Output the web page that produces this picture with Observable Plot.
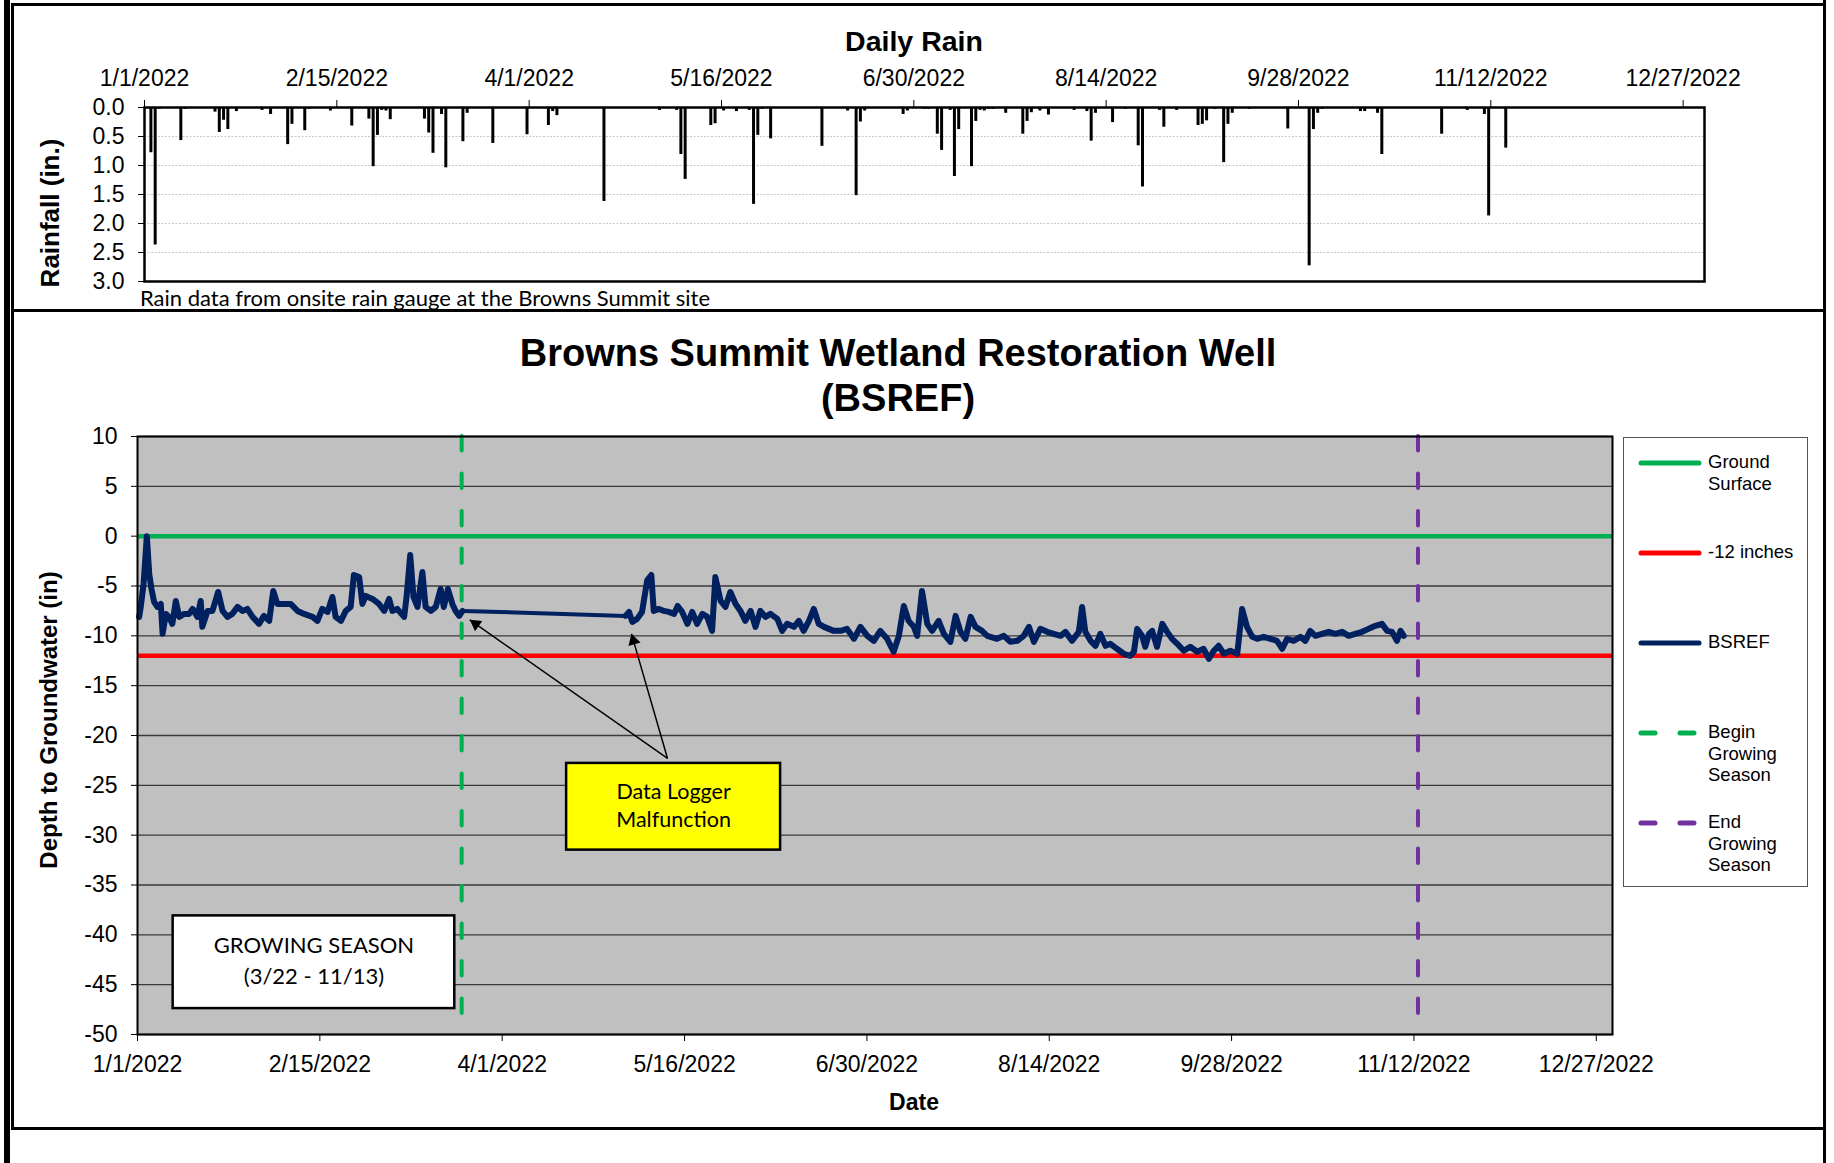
<!DOCTYPE html>
<html>
<head>
<meta charset="utf-8">
<script src="https://cdn.jsdelivr.net/npm/d3@7"></script>
<script src="https://cdn.jsdelivr.net/npm/@observablehq/plot@0.6"></script>
<style>
  html, body { margin: 0; padding: 0; background: #fff; overflow: hidden; }
  #page { position: relative; width: 1834px; height: 1163px; overflow: hidden; background: #fff;
          font-family: "Liberation Sans", Arial, sans-serif; color: #000; }
  .abs { position: absolute; }
  .c { transform: translate(-50%, -50%); white-space: nowrap; }
  .rot { transform: translate(-50%, -50%) rotate(-90deg); white-space: nowrap; }
</style>
</head>
<body>
<div id="page"></div>
<script>
// ---------------- DATA ----------------
const tickDates = ["2022-01-01","2022-02-15","2022-04-01","2022-05-16","2022-06-30","2022-08-14","2022-09-28","2022-11-12","2022-12-27"];

const rainTicks = [0, 0.5, 1, 1.5, 2, 2.5, 3];
const rainDates = [
  "2022-01-02","2022-01-03","2022-01-04","2022-01-09","2022-01-10","2022-01-17","2022-01-18","2022-01-19","2022-01-20","2022-01-22",
  "2022-01-28","2022-01-29","2022-01-30","2022-02-03","2022-02-04","2022-02-07","2022-02-08","2022-02-13","2022-02-18","2022-02-22",
  "2022-02-23","2022-02-24","2022-02-25","2022-02-26","2022-02-27","2022-03-07","2022-03-08","2022-03-09","2022-03-11","2022-03-12",
  "2022-03-16","2022-03-17","2022-03-23","2022-03-31","2022-04-05","2022-04-06","2022-04-07","2022-04-18","2022-05-01","2022-05-05",
  "2022-05-06","2022-05-07","2022-05-13","2022-05-14","2022-05-16","2022-05-19","2022-05-22","2022-05-23","2022-05-24","2022-05-25",
  "2022-05-27","2022-06-08","2022-06-14","2022-06-16","2022-06-17","2022-06-18","2022-06-27","2022-06-28","2022-07-02","2022-07-03",
  "2022-07-05","2022-07-06","2022-07-08","2022-07-09","2022-07-10","2022-07-13","2022-07-14","2022-07-15","2022-07-16","2022-07-17",
  "2022-07-18","2022-07-21","2022-07-25","2022-07-26","2022-07-27","2022-07-29","2022-07-31","2022-08-06","2022-08-09","2022-08-10",
  "2022-08-11","2022-08-15","2022-08-18","2022-08-21","2022-08-22","2022-08-26","2022-08-27","2022-08-30","2022-09-04","2022-09-05",
  "2022-09-06","2022-09-08","2022-09-10","2022-09-11","2022-09-12","2022-09-16","2022-09-25","2022-09-30","2022-10-01","2022-10-02",
  "2022-10-03","2022-10-12","2022-10-13","2022-10-16","2022-10-17","2022-10-31","2022-11-06","2022-11-10","2022-11-11","2022-11-15"
];
const rainInches = [
  0.78,2.37,0.03,0.57,0.03,0.08,0.43,0.22,0.38,0.07,
  0.05,0.02,0.12,0.64,0.29,0.40,0.03,0.06,0.32,0.20,
  1.02,0.48,0.05,0.06,0.21,0.20,0.44,0.79,0.12,1.04,
  0.59,0.10,0.62,0.47,0.31,0.07,0.14,1.62,0.05,0.05,
  0.81,1.24,0.31,0.28,0.06,0.07,0.05,1.67,0.48,0.03,
  0.54,0.67,0.06,1.52,0.25,0.06,0.12,0.06,0.03,0.03,
  0.46,0.74,0.05,1.19,0.38,1.02,0.24,0.05,0.06,0.03,
  0.03,0.10,0.46,0.24,0.09,0.06,0.13,0.05,0.07,0.58,
  0.10,0.26,0.03,0.66,1.37,0.05,0.34,0.05,0.31,0.29,
  0.23,0.03,0.95,0.29,0.10,0.03,0.37,2.73,0.38,0.10,
  0.03,0.07,0.07,0.10,0.81,0.46,0.05,0.12,1.87,0.70
];

const depthTicks = [10, 5, 0, -5, -10, -15, -20, -25, -30, -35, -40, -45, -50];
const groundSurface = 0;
const thresholdDepth = -12;
const seasonBegin = "2022-03-22";
const seasonEnd = "2022-11-13";

// BSREF well: day of year (0 = Jan 1, 2022) and depth to groundwater (in), in two logged runs
const wellDayOfYearRun1 = [
  0.4,0.8,1.5,2.3,2.9,3.45,4.1,4.9,5.75,6.2,7.0,7.8,8.6,9.45,10.3,11.5,12.75,13.6,14.8,15.6,
  16.0,17.3,18.5,19.9,21.0,22.2,23.4,24.7,25.9,27.1,28.4,30.0,31.2,32.5,33.5,34.5,36.2,37.8,39.5,41.1,
  43.2,44.4,45.6,46.9,48.1,48.9,50.2,51.4,52.6,53.4,54.7,55.5,56.3,58.0,59.6,60.9,62.1,62.9,64.1,65.8,
  66.4,67.3,68.1,69.1,70.3,71.1,72.4,73.6,74.8,75.6,76.6,77.7,78.5,79.4,80.2
];
const wellDepthRun1 = [
  -8.1,-7.1,-4.8,0.0,-3.8,-5.3,-6.6,-7.1,-6.8,-9.8,-7.8,-8.1,-8.8,-6.5,-8.1,-7.8,-7.8,-7.3,-8.1,-6.5,
  -9.1,-7.5,-7.5,-5.6,-7.5,-8.1,-7.8,-7.1,-7.5,-7.3,-8.1,-8.8,-8.0,-8.5,-5.5,-6.8,-6.8,-6.8,-7.5,-7.8,
  -8.1,-8.5,-7.3,-7.6,-6.1,-8.1,-8.5,-7.5,-7.1,-3.9,-4.1,-6.8,-6.0,-6.3,-6.8,-7.5,-6.3,-7.5,-7.3,-8.1,
  -6.1,-1.9,-6.1,-7.1,-3.6,-7.1,-7.5,-7.1,-5.3,-7.1,-5.3,-6.8,-7.5,-8.0,-7.5
];
const wellDayOfYearRun2 = [
  120.4,121.3,122.1,123.3,124.5,125.8,126.8,127.4,128.7,129.9,131.1,132.4,133.3,134.4,135.7,136.9,138.1,139.4,140.6,141.8,
  142.6,143.9,145.1,146.3,147.6,148.8,150.0,151.3,152.5,153.7,155.0,156.2,157.9,159.1,160.3,162.0,163.2,164.4,165.7,166.9,
  168.1,169.4,170.6,171.8,173.5,175.1,176.8,178.4,180.1,181.7,183.3,185.0,186.6,187.9,189.1,190.3,191.6,192.4,193.6,194.9,
  196.1,197.7,199.0,200.6,201.9,203.1,204.3,205.6,206.8,208.4,209.7,
  210.5,212.1,213.8,215.4,217.1,218.7,220.0,221.2,222.8,224.5,226.1,227.8,229.0,230.6,232.3,233.1,233.9,235.2,236.4,237.6,
  238.9,240.1,241.7,243.4,245.0,245.9,246.7,247.9,248.7,249.6,250.4,251.6,252.9,254.1,255.3,256.6,258.2,259.8,261.5,263.1,
  264.4,265.6,266.8,268.1,269.7,271.4,272.6,273.8,275.1,276.3,277.9,279.6,281.2,282.5,283.7,285.3,287.0,288.2,289.4,290.7,
  292.3,294.0,295.6,297.3,298.9,300.5,302.2,303.8,305.5,307.1,308.4,309.6,310.8,311.7,312.5
];
const wellDepthRun2 = [
  -8.0,-7.6,-8.6,-8.3,-7.6,-4.4,-3.9,-7.5,-7.3,-7.5,-7.6,-7.8,-7.0,-7.6,-8.8,-7.6,-8.8,-7.8,-8.1,-9.5,
  -4.1,-6.5,-7.1,-5.6,-6.8,-7.5,-8.5,-7.5,-9.1,-7.5,-8.1,-7.8,-8.3,-9.5,-8.8,-9.1,-8.5,-9.5,-8.5,-7.3,
  -8.8,-9.1,-9.3,-9.5,-9.5,-9.3,-10.3,-9.1,-10.0,-10.5,-9.5,-10.3,-11.6,-10.0,-7.0,-8.5,-9.1,-10.0,-5.5,-8.8,
  -9.5,-8.5,-9.8,-10.6,-8.0,-9.6,-10.3,-8.1,-9.1,-9.5,-10.0,
  -10.1,-10.3,-10.0,-10.6,-10.5,-10.0,-9.1,-10.6,-9.3,-9.6,-9.8,-10.0,-9.6,-10.5,-9.6,-7.1,-9.6,-10.5,-11.0,-9.8,
  -11.0,-10.8,-11.3,-11.8,-12.0,-11.6,-9.3,-10.0,-11.1,-9.8,-9.5,-11.1,-8.8,-9.6,-10.3,-10.8,-11.5,-11.1,-11.6,-11.3,
  -12.3,-11.5,-11.0,-11.8,-11.5,-11.8,-7.3,-9.1,-10.1,-10.3,-10.1,-10.3,-10.5,-11.3,-10.3,-10.5,-10.1,-10.5,-9.5,-10.0,
  -9.8,-9.6,-9.8,-9.6,-10.0,-9.8,-9.6,-9.3,-9.0,-8.8,-9.5,-9.6,-10.5,-9.5,-10.0
];

// Annotations (day of year, depth in inches)
const malfunctionBox = {x1: 105.9, x2: 158.7, y1: -22.8, y2: -31.5, text: "Data Logger\nMalfunction"};
const malfunctionArrows = [
  {fromDay: 130.8, fromDepth: -22.3, toDay: 82.0, toDepth: -8.4},
  {fromDay: 130.8, fromDepth: -22.3, toDay: 121.9, toDepth: -9.8}
];
const seasonBox = {x1: 8.8, x2: 78.3, y1: -38.1, y2: -47.4, text: "GROWING SEASON\n(3/22 - 11/13)"};

const legendLabels = ["Ground\nSurface", "-12 inches", "BSREF", "Begin\nGrowing\nSeason", "End\nGrowing\nSeason"];
const legendColors = ["#00B050", "#FF0000", "#002060", "#00B050", "#7030A0"];
const legendDashed = [false, false, false, true, true];

// ---------------- HELPERS ----------------
const parseDate = d3.timeParse("%Y-%m-%d");
const jan1 = new Date(2022, 0, 1);
const fromDay = d => d3.timeMinute.offset(jan1, Math.round(d * 1440));
const fmtDate = d3.timeFormat("%-m/%-d/%Y");
const ticks = tickDates.map(parseDate);

const rain = rainDates.map((d, i) => ({date: d3.timeHour.offset(parseDate(d), 12), inches: rainInches[i]}));
const run1 = wellDayOfYearRun1.map((d, i) => ({date: fromDay(d), depth: wellDepthRun1[i], run: 1}));
const run2 = wellDayOfYearRun2.map((d, i) => ({date: fromDay(d), depth: wellDepthRun2[i], run: 2}));
const well = run1.concat(run2);
const gap = [{x1: run1[run1.length - 1].date, y1: run1[run1.length - 1].depth, x2: run2[0].date, y2: run2[0].depth}];

const ARIAL = '"Liberation Sans", Arial, sans-serif';
const CALIBRI = 'Lato, "Open Sans", sans-serif';

const page = document.getElementById("page");
function addDiv(cls, css, html) {
  const el = document.createElement("div");
  el.className = cls;
  el.style.cssText = css;
  if (html != null) el.innerHTML = html;
  page.appendChild(el);
  return el;
}

// ---------------- FRAMES ----------------
addDiv("abs", "left:11px;top:3px;width:1815px;height:309px;border:3px solid #000;box-sizing:border-box;");
addDiv("abs", "left:11px;top:309px;width:1815px;height:821px;border:3px solid #000;box-sizing:border-box;");
addDiv("abs", "left:4px;top:0;width:6px;height:1163px;background:#000;");
addDiv("abs", "left:1823px;top:0;width:3px;height:1163px;background:#000;");

// ---------------- RAIN PLOT ----------------
const rainPlot = Plot.plot({
  width: 1834, height: 290,
  marginTop: 107, marginBottom: 9, marginLeft: 144, marginRight: 130,
  style: {fontFamily: ARIAL, fontSize: "23px", color: "#000", background: "transparent", overflow: "visible"},
  x: {type: "time", domain: [jan1, new Date(2023, 0, 1)], axis: "top", ticks, tickFormat: fmtDate,
      tickSize: 8, tickPadding: 14, label: null},
  y: {domain: [0, 3], reverse: true, ticks: rainTicks, tickFormat: d3.format(".1f"),
      tickSize: 6, tickPadding: 14, label: null},
  marks: [
    Plot.ruleY(rainTicks.filter(t => t > 0 && t < 3), {stroke: "#c8c8c8", strokeWidth: 1.2, strokeDasharray: "2,1.5"}),
    Plot.ruleX(rain, {x: "date", y1: 0, y2: "inches", stroke: "#000", strokeWidth: 3}),
    Plot.frame({stroke: "#000", strokeWidth: 2.5})
  ]
});
const rainWrap = addDiv("abs", "left:0;top:0;width:1834px;");
rainWrap.appendChild(rainPlot);

addDiv("abs c", `left:914px;top:41px;font:bold 28.5px ${ARIAL};`, "Daily Rain");
addDiv("abs rot", `left:50px;top:213px;font:bold 26px ${ARIAL};`, "Rainfall (in.)");
addDiv("abs", `left:140px;top:286px;font:22px ${CALIBRI};white-space:nowrap;line-height:24px;`,
  "Rain data from onsite rain gauge at the Browns Summit site");

// ---------------- WELL PLOT ----------------
const W = 1834, H = 818, mT = 125, mB = 95, mL = 137, mR = 222;
const xDomain = [jan1, new Date(2022, 11, 31)];
const yDomain = [-50, 10];
// same mapping as Plot's scales, used only to orient the arrow heads
const xs = d3.scaleTime().domain(xDomain).range([mL, W - mR]);
const ys = d3.scaleLinear().domain(yDomain).range([H - mB, mT]);

const arrowLinks = malfunctionArrows.map(a => ({x1: fromDay(a.fromDay), y1: a.fromDepth, x2: fromDay(a.toDay), y2: a.toDepth}));
const headMarks = arrowLinks.map(a => {
  const dx = xs(a.x2) - xs(a.x1), dy = ys(a.y2) - ys(a.y1);
  const len = Math.hypot(dx, dy), ux = dx / len, uy = dy / len;
  const angle = Math.atan2(dx, -dy) * 180 / Math.PI;
  const back = 7.2;
  return Plot.dot([a], {x: "x2", y: "y2", symbol: "triangle2", r: 6, fill: "#000", stroke: "none",
                        rotate: angle, dx: -ux * back, dy: -uy * back});
});

const boxMid = b => ({x: fromDay((b.x1 + b.x2) / 2), y: (b.y1 + b.y2) / 2, text: b.text});
const boxRect = b => ({x1: fromDay(b.x1), x2: fromDay(b.x2), y1: b.y1, y2: b.y2});

const wellPlot = Plot.plot({
  width: W, height: H, marginTop: mT, marginBottom: mB, marginLeft: mL, marginRight: mR,
  style: {fontFamily: ARIAL, fontSize: "23px", color: "#000", background: "transparent", overflow: "visible"},
  x: {type: "time", domain: xDomain, ticks, tickFormat: fmtDate, tickSize: 7, tickPadding: 14, label: null},
  y: {domain: yDomain, ticks: depthTicks, tickFormat: d => `${d}`, tickSize: 6, tickPadding: 14, label: null},
  marks: [
    Plot.frame({fill: "#C0C0C0", stroke: "none"}),
    Plot.ruleY(depthTicks, {stroke: "#3a3a3a", strokeWidth: 1.3}),
    Plot.ruleY([groundSurface], {stroke: "#00B050", strokeWidth: 4.5}),
    Plot.ruleY([thresholdDepth], {stroke: "#FF0000", strokeWidth: 4.5}),
    Plot.link(gap, {x1: "x1", y1: "y1", x2: "x2", y2: "y2", stroke: "#002060", strokeWidth: 4, strokeLinecap: "round"}),
    Plot.lineY(well, {x: "date", y: "depth", z: "run", stroke: "#002060", strokeWidth: 6, strokeLinejoin: "round", strokeLinecap: "round"}),
    Plot.ruleX([parseDate(seasonBegin)], {stroke: "#00B050", strokeWidth: 4, strokeDasharray: "14.5,23", strokeLinecap: "round"}),
    Plot.ruleX([parseDate(seasonEnd)], {stroke: "#7030A0", strokeWidth: 4, strokeDasharray: "14.5,23", strokeLinecap: "round"}),
    Plot.link(arrowLinks, {x1: "x1", y1: "y1", x2: "x2", y2: "y2", stroke: "#000", strokeWidth: 1.5}),
    ...headMarks,
    Plot.rect([boxRect(malfunctionBox)], {x1: "x1", x2: "x2", y1: "y1", y2: "y2", fill: "#FFFF00", stroke: "#000", strokeWidth: 2.5}),
    Plot.text([boxMid(malfunctionBox)], {x: "x", y: "y", text: "text", fontFamily: CALIBRI, fontSize: 21.5, lineHeight: 1.3, fill: "#000", lineAnchor: "middle", dy: -2.5}),
    Plot.rect([boxRect(seasonBox)], {x1: "x1", x2: "x2", y1: "y1", y2: "y2", fill: "#FFFFFF", stroke: "#000", strokeWidth: 2.5}),
    Plot.text([boxMid(seasonBox)], {x: "x", y: "y", text: "text", fontFamily: CALIBRI, fontSize: 22, lineHeight: 1.45, fill: "#000", lineAnchor: "middle", dy: -4}),
    Plot.frame({stroke: "#000", strokeWidth: 2})
  ]
});
const wellWrap = addDiv("abs", "left:0;top:311px;width:1834px;");
wellWrap.appendChild(wellPlot);

addDiv("abs", `left:0;top:331px;width:1796px;text-align:center;font:bold 38px ${ARIAL};line-height:45px;`,
  "Browns Summit Wetland Restoration Well<br>(BSREF)");
addDiv("abs c", `left:914px;top:1102px;font:bold 23px ${ARIAL};`, "Date");
addDiv("abs rot", `left:49px;top:720px;font:bold 24px ${ARIAL};`, "Depth to Groundwater (in)");

// ---------------- LEGEND ----------------
const legend = addDiv("abs", "left:1623px;top:437px;width:185px;height:450px;border:1.5px solid #555;box-sizing:border-box;background:#fff;");
legendLabels.forEach((label, i) => {
  const cy = 25 + i * 90;
  const sw = document.createElementNS("http://www.w3.org/2000/svg", "svg");
  sw.setAttribute("width", 80); sw.setAttribute("height", 12);
  sw.style.cssText = `position:absolute;left:12px;top:${cy - 6}px;overflow:visible;`;
  const ln = document.createElementNS("http://www.w3.org/2000/svg", "line");
  ln.setAttribute("x1", 5); ln.setAttribute("x2", 63); ln.setAttribute("y1", 6); ln.setAttribute("y2", 6);
  ln.setAttribute("stroke", legendColors[i]); ln.setAttribute("stroke-width", 5); ln.setAttribute("stroke-linecap", "round");
  if (legendDashed[i]) ln.setAttribute("stroke-dasharray", "14,25");
  sw.appendChild(ln);
  legend.appendChild(sw);
  const tx = document.createElement("div");
  tx.style.cssText = `position:absolute;left:84px;top:${cy - 12}px;font:18.5px ${ARIAL};line-height:21.5px;white-space:pre;`;
  tx.textContent = label;
  legend.appendChild(tx);
});
</script>
</body>
</html>
